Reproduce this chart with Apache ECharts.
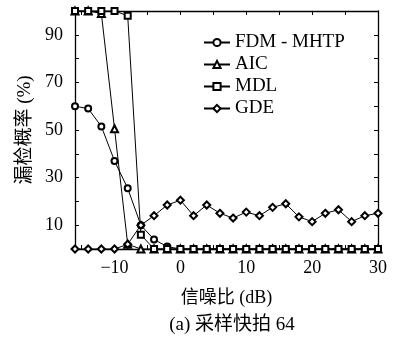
<!DOCTYPE html>
<html>
<head>
<meta charset="utf-8">
<script src="https://cdn.jsdelivr.net/npm/echarts@6/dist/echarts.min.js"></script>
<style>
  html, body { margin: 0; padding: 0; background: #fff; }
  #main { width: 393px; height: 340px; }
</style>
</head>
<body>
<div id="main"></div>
<script>
// 信噪比 (dB)
const snr = [-16, -14, -12, -10, -8, -6, -4, -2, 0, 2, 4, 6, 8, 10, 12, 14, 16, 18, 20, 22, 24, 26, 28, 30]

// 漏检概率 (%)
const fdmMhtp = [60, 59, 51.5, 37, 25.5, 10, 4, 1, 0, 0, 0, 0, 0, 0, 0, 0, 0, 0, 0, 0, 0, 0, 0, 0]
const aic = [100, 100, 99, 50.5, 2, 0, 0, 0, 0, 0, 0, 0, 0, 0, 0, 0, 0, 0, 0, 0, 0, 0, 0, 0]
const mdl = [100, 100, 100, 100, 98, 6, 0, 0, 0, 0, 0, 0, 0, 0, 0, 0, 0, 0, 0, 0, 0, 0, 0, 0]
const gde = [0, 0, 0, 0, 2, 10, 14, 18.5, 20.5, 14, 18.5, 15, 13, 15.5, 14, 17.5, 19, 13.5, 11.5, 15, 16.5, 11.5, 14, 15]

const xTicks = [-15, -10, -5, 0, 5, 10, 15, 20, 25, 30]
const xLabels = [-10, 0, 10, 20, 30]
const yLabels = [10, 30, 50, 70, 90]

const serif = "'Liberation Serif', 'Noto Sans CJK SC', serif"
const zip = vals => snr.map((x, i) => [x, vals[i]])

const chart = echarts.init(document.getElementById('main'))

const axisLine = { show: true, onZero: false, lineStyle: { color: '#000', width: 1.3 } }

const makeSeries = (name, symbol, vals, size) => ({
    name: name,
    type: 'line',
    data: zip(vals),
    symbol: symbol,
    symbolSize: size,
    showAllSymbol: true,
    clip: false,
    lineStyle: { color: '#000', width: 1 },
    itemStyle: { color: '#000', borderColor: '#000', borderWidth: 1 },
    emphasis: { disabled: true },
})

chart.setOption({
    animation: false,
    grid: { left: 75, right: 15, top: 11, bottom: 91 },
    title: {
        text: '(a) 采样快拍 64',
        left: 227,
        top: 311,
        textAlign: 'center',
        textStyle: { fontFamily: serif, fontSize: 19, fontWeight: 'normal', color: '#000' },
    },
    legend: {
        orient: 'vertical',
        left: 198,
        top: 28,
        itemWidth: 26,
        itemHeight: 9,
        itemGap: 3,
        textStyle: { fontFamily: serif, fontSize: 19, color: '#000' },
        data: ['FDM - MHTP', 'AIC', 'MDL', 'GDE'],
    },
    xAxis: [
        {
            type: 'value',
            min: -16,
            max: 30,
            position: 'bottom',
            axisLine: axisLine,
            axisTick: { inside: true, length: 4, customValues: xTicks, lineStyle: { color: '#000' } },
            axisLabel: {
                customValues: xLabels,
                fontFamily: serif,
                fontSize: 18,
                color: '#000',
                margin: 10,
                formatter: v => (v < 0 ? '\u2212' + (-v) : String(v)),
            },
            splitLine: { show: false },
            name: '信噪比 (dB)',
            nameLocation: 'middle',
            nameGap: 40,
            nameTextStyle: { fontFamily: serif, fontSize: 18, color: '#000' },
        },
        {
            type: 'value',
            min: -16,
            max: 30,
            position: 'top',
            axisLine: axisLine,
            axisTick: { inside: true, length: 4, customValues: xTicks, lineStyle: { color: '#000' } },
            axisLabel: { show: false },
            splitLine: { show: false },
        },
    ],
    yAxis: [
        {
            type: 'value',
            min: 0,
            max: 100,
            interval: 10,
            position: 'left',
            axisLine: axisLine,
            axisTick: { inside: true, length: 4, lineStyle: { color: '#000' } },
            axisLabel: {
                customValues: yLabels,
                fontFamily: serif,
                fontSize: 18,
                color: '#000',
                margin: 12,
            },
            splitLine: { show: false },
            name: '漏检概率 (%)',
            nameLocation: 'middle',
            nameGap: 39,
            nameTextStyle: { fontFamily: serif, fontSize: 19, color: '#000' },
        },
        {
            type: 'value',
            min: 0,
            max: 100,
            interval: 10,
            position: 'right',
            axisLine: axisLine,
            axisTick: { inside: true, length: 4, lineStyle: { color: '#000' } },
            axisLabel: { show: false },
            splitLine: { show: false },
        },
    ],
    series: [
        makeSeries('FDM - MHTP', 'emptyCircle', fdmMhtp, 6),
        makeSeries('AIC', 'emptyTriangle', aic, 7),
        makeSeries('MDL', 'emptyRect', mdl, 6),
        makeSeries('GDE', 'emptyDiamond', gde, 7),
    ],
})
</script>
</body>
</html>
